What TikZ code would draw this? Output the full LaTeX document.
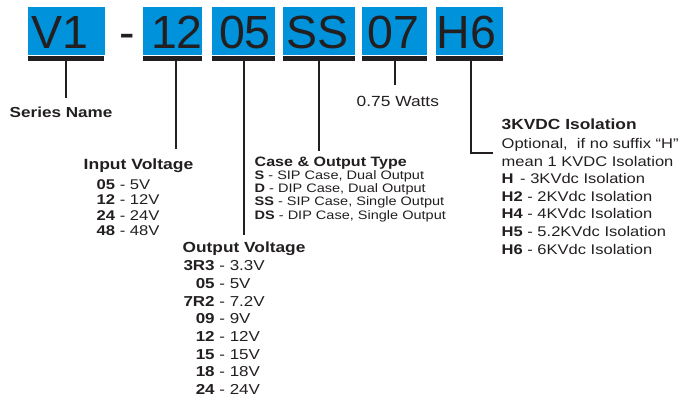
\documentclass[tikz,border=0pt]{standalone}
\usepackage{fontspec}
\setmainfont{Liberation Sans}[FakeStretch=1.18]
\newfontfamily\boxfont{Liberation Sans}
\definecolor{boxblue}{RGB}{0,146,218}
\definecolor{ink}{RGB}{35,31,32}
\begin{document}
\begin{tikzpicture}[x=1pt,y=-1pt,
  codebox/.style={fill=boxblue, draw=none, inner sep=0, outer sep=0, anchor=north west, minimum height=48.8pt},
  codetext/.style={font=\boxfont\fontsize{46.5}{50}\selectfont, text=ink, anchor=base, inner sep=0},
  bar/.style={fill=ink, draw=none, inner sep=0, outer sep=0, anchor=north west, minimum height=5pt},
  lead/.style={draw=ink, line width=2pt, line join=miter},
  lbl/.style={anchor=base west, inner sep=0, text=ink},
  head/.style={lbl, font=\bfseries\fontsize{14.7}{17}\selectfont}
]
\useasboundingbox (0,0) rectangle (689,403);

% code boxes
\node[codebox, minimum width=77pt]   (bV1) at (28,6.7) {};
\node[codebox, minimum width=59pt]   (b12) at (143.3,6.7) {};
\node[codebox, minimum width=63.3pt] (b05) at (212,6.7) {};
\node[codebox, minimum width=72.3pt] (bSS) at (282.7,6.7) {};
\node[codebox, minimum width=65pt]   (b07) at (362.3,6.7) {};
\node[codebox, minimum width=67pt]   (bH6) at (435.7,6.7) {};

\node[codetext] (tV1) at (60.3,48.3) {V1};
\node[codetext] (tdash) at (127.5,48.3) {-};
\node[codetext] (t12) at (177,48.3) {12};
\node[codetext] (t05) at (245,48.3) {05};
\node[codetext] (tSS) at (317.7,48.3) {SS};
\node[codetext] (t07) at (393.3,48.3) {07};
\node[codetext] (tH6) at (466.5,48.3) {H6};

% bars
\node[bar, minimum width=76pt]   (rV1) at (28,56) {};
\node[bar, minimum width=59pt]   (r12) at (143.3,56) {};
\node[bar, minimum width=63.3pt] (r05) at (212,56) {};
\node[bar, minimum width=72.3pt] (rSS) at (282.7,56) {};
\node[bar, minimum width=65pt]   (r07) at (362.3,56) {};
\node[bar, minimum width=67pt]   (rH6) at (435.7,56) {};

% leader ends
\coordinate (eV1) at (66,98.3);
\coordinate (e12) at (176,149);
\coordinate (e05) at (244,235);
\coordinate (eSS) at (319,151);
\coordinate (e07) at (395,85);
\coordinate (eH6) at (471,153);
\coordinate (fH6) at (493,153);

\draw[lead] (rV1.south -| eV1) -- (eV1);
\draw[lead] (r12.south -| e12) -- (e12);
\draw[lead] (r05.south -| e05) -- (e05);
\draw[lead] (rSS.south -| eSS) -- (eSS);
\draw[lead] (r07.south -| e07) -- (e07);
\draw[lead] (rH6.south -| eH6) -- (eH6) -- (fH6);

% labels
\node[head, font=\bfseries\fontsize{14.5}{17}\selectfont] (sname) at (9.5,117.7) {Series Name};
\node[lbl, font=\fontsize{14.7}{17}\selectfont] (watts) at (356.5,106.7) {0.75 Watts};

\node[head, font=\bfseries\fontsize{14.85}{17}\selectfont] (inhead) at (83.5,169.3) {Input Voltage};
\foreach \c/\v [count=\i] in {05/5V,12/12V,24/24V,48/48V}
  \node[lbl, font=\fontsize{14.1}{16}\selectfont] (in\i) at (96.5,{189.5+(\i-1)*15.3}) {\textbf{\c} - \v};

\node[head, font=\bfseries\fontsize{14.66}{17}\selectfont] (outhead) at (182.5,252.7) {Output Voltage};
\foreach \c/\v [count=\i] in {3R3/3.3V,05/5V,7R2/7.2V,09/9V,12/12V,15/15V,18/18V,24/24V}
  \node[lbl, font=\fontsize{14.4}{16}\selectfont] (out\i) at (182.5,{270.7+(\i-1)*17.7}) {\makebox[32pt][r]{\bfseries\c} - \v};

\node[head, font=\bfseries\fontsize{13.6}{16}\selectfont] (casehead) at (254.5,167) {Case \& Output Type};
\tikzset{caserow/.style={lbl, font=\fontsize{12.3}{14}\selectfont}}
\node[caserow] (case1) at (254.5,179.5) {\textbf{S} - SIP Case, Dual Output};
\node[caserow] (case2) at (254.5,192.7) {\textbf{D} - DIP Case, Dual Output};
\node[caserow] (case3) at (254.5,206) {\textbf{SS} - SIP Case, Single Output};
\node[caserow] (case4) at (254.5,219.2) {\textbf{DS} - DIP Case, Single Output};

\node[head, font=\bfseries\fontsize{14.7}{17}\selectfont] (isohead) at (501.5,129.5) {3KVDC Isolation};
\tikzset{isorow/.style={lbl, font=\fontsize{14}{16}\selectfont}}
\node[isorow] (iso1) at (501.5,148.9) {Optional,\ \ if no suffix “H”};
\node[isorow] (iso2) at (501.5,166.5) {mean 1 KVDC Isolation};
\node[isorow] (iso3) at (501.5,184) {\textbf{H}\kern2pt\ - 3KVdc Isolation};
\node[isorow] (iso4) at (501.5,201.7) {\textbf{H2} - 2KVdc Isolation};
\node[isorow] (iso5) at (501.5,219) {\textbf{H4} - 4KVdc Isolation};
\node[isorow] (iso6) at (501.5,236.7) {\textbf{H5} - 5.2KVdc Isolation};
\node[isorow] (iso7) at (501.5,254.3) {\textbf{H6} - 6KVdc Isolation};
\end{tikzpicture}
\end{document}
